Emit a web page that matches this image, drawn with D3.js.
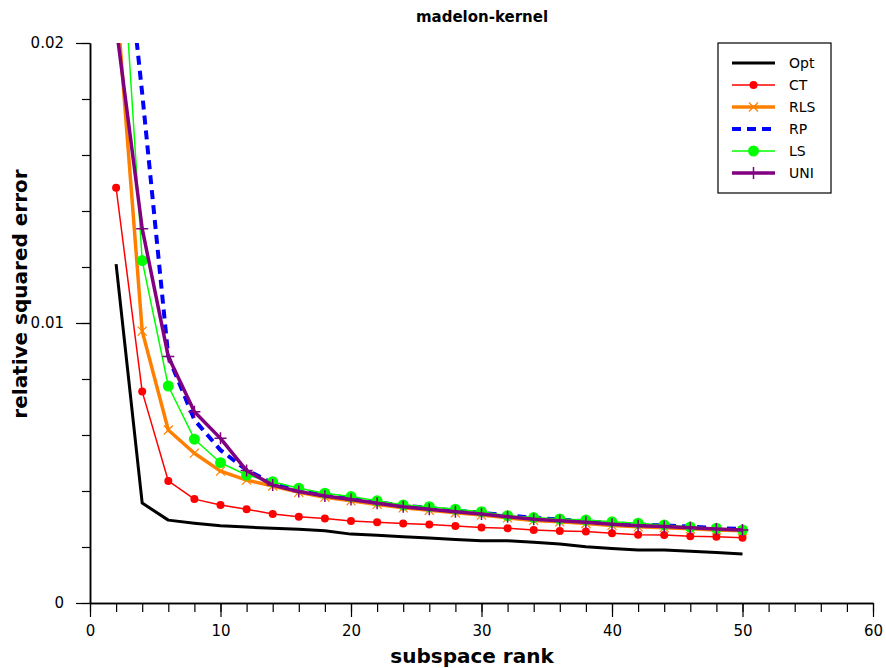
<!DOCTYPE html>
<html>
<head>
<meta charset="utf-8">
<script src="https://cdn.jsdelivr.net/npm/d3@7"></script>
<style>
  body { margin: 0; background: #fff; }
  text { font-family: "DejaVu Sans", Verdana, sans-serif; }
</style>
</head>
<body>
<div id="chart"></div>
<script>
// subspace ranks (shared by every series)
var ranks = [2,4,6,8,10,12,14,16,18,20,22,24,26,28,30,32,34,36,38,40,42,44,46,48,50];

var optVals = [0.0121,0.00357,0.00296,0.00285,0.00276,0.00271,0.00267,0.00263,0.00258,0.00246,0.00242,0.00237,0.00232,0.00227,0.00222,0.00222,0.00217,0.00211,0.00201,0.00195,0.00189,0.00189,0.00185,0.0018,0.00175];
var ctVals  = [0.01483,0.00755,0.00436,0.00371,0.0035,0.00335,0.00318,0.00308,0.00302,0.00293,0.00288,0.00284,0.0028,0.00275,0.0027,0.00267,0.00261,0.00257,0.00255,0.00249,0.00244,0.00243,0.00238,0.00237,0.00233];
var rlsVals = [0.0218,0.00971,0.00618,0.00535,0.00471,0.00439,0.00418,0.00395,0.00378,0.00365,0.00352,0.0034,0.00331,0.00322,0.00314,0.00304,0.00295,0.0029,0.00284,0.00277,0.00272,0.00269,0.00265,0.00261,0.00258];
var rpVals  = [0.027,0.0182,0.0088,0.00654,0.00546,0.00475,0.00427,0.00403,0.00386,0.00373,0.0036,0.00348,0.00339,0.0033,0.00322,0.00313,0.00304,0.00298,0.00292,0.00285,0.0028,0.00277,0.00273,0.00268,0.00264];
var lsVals  = [0.0269,0.01223,0.00775,0.00585,0.00501,0.00457,0.00433,0.0041,0.00392,0.0038,0.00365,0.0035,0.00344,0.00335,0.00326,0.00312,0.00305,0.003,0.00296,0.0029,0.00285,0.00279,0.00271,0.00267,0.00261];
var uniVals = [0.0206,0.01337,0.0088,0.00683,0.00588,0.00473,0.00421,0.00398,0.00382,0.0037,0.00356,0.00344,0.00335,0.00326,0.00318,0.00308,0.00299,0.00294,0.00288,0.00281,0.00276,0.00273,0.00269,0.00264,0.00261];

var seriesNames = ["Opt", "CT", "RLS", "RP", "LS", "UNI"];
var xMajorTicks = [0, 10, 20, 30, 40, 50, 60];
var yMajorTicks = [0, 0.01, 0.02];

var margin = {top: 43, right: 13, bottom: 65, left: 90},
    width = 886 - margin.left - margin.right,
    height = 668 - margin.top - margin.bottom;

var x = d3.scaleLinear().domain([0, 60]).range([0, width]);
var y = d3.scaleLinear().domain([0, 0.02]).range([height, 0]);

var svg = d3.select("#chart")
    .append("svg")
        .attr("width", 886)
        .attr("height", 668)
    .append("g")
        .attr("transform", "translate(" + margin.left + "," + margin.top + ")");

svg.append("defs").append("clipPath")
    .attr("id", "plotclip")
  .append("rect")
    .attr("width", width)
    .attr("height", height);

// series styles
var styles = {
    Opt: {vals: optVals, color: "#000000", w: 3,   dash: null,  marker: null},
    CT:  {vals: ctVals,  color: "#ff0000", w: 1.5, dash: null,  marker: "dot"},
    RLS: {vals: rlsVals, color: "#ff8000", w: 3.5, dash: null,  marker: "x"},
    RP:  {vals: rpVals,  color: "#0000ff", w: 4,   dash: "9,6", marker: null},
    LS:  {vals: lsVals,  color: "#00ff00", w: 1.5, dash: null,  marker: "bigdot"},
    UNI: {vals: uniVals, color: "#800080", w: 3.5, dash: null,  marker: "plus"}
};

function drawMarker(g, kind, color) {
    if (kind == "dot") {
        g.append("circle").attr("r", 4).attr("fill", color);
    } else if (kind == "bigdot") {
        g.append("circle").attr("r", 5.5).attr("fill", color);
    } else if (kind == "x") {
        g.append("path").attr("d", "M-4.5,-4.5L4.5,4.5M-4.5,4.5L4.5,-4.5")
            .attr("stroke", color).attr("stroke-width", 1.2).attr("fill", "none");
    } else if (kind == "plus") {
        g.append("path").attr("d", "M0,-6V6M-6,0H6")
            .attr("stroke", color).attr("stroke-width", 1.5).attr("fill", "none");
    }
}

var line = d3.line()
    .x(function(d) { return x(d.r); })
    .y(function(d) { return y(d.v); });

var plot = svg.append("g").attr("clip-path", "url(#plotclip)");

seriesNames.forEach(function(name) {
    var s = styles[name];
    var data = ranks.map(function(r, i) { return {r: r, v: s.vals[i]}; });
    var g = plot.append("g");
    g.append("path")
        .attr("d", line(data))
        .attr("fill", "none")
        .attr("stroke", s.color)
        .attr("stroke-width", s.w)
        .attr("stroke-dasharray", s.dash)
        .attr("stroke-linejoin", "round");
    if (s.marker) {
        data.forEach(function(d) {
            var m = g.append("g").attr("transform", "translate(" + x(d.r) + "," + y(d.v) + ")");
            drawMarker(m, s.marker, s.color);
        });
    }
});

// X axis: minor then major ticks
svg.append("g")
    .attr("transform", "translate(0," + height + ")")
    .call(d3.axisBottom(x).tickValues(d3.range(0, 61, 2)).tickSize(9).tickSizeOuter(0).tickFormat(""));
svg.append("g")
    .attr("class", "xaxis")
    .attr("transform", "translate(0," + height + ")")
    .call(d3.axisBottom(x).tickValues(xMajorTicks).tickSize(14).tickSizeOuter(0).tickPadding(8));

// Y axis
svg.append("g")
    .call(d3.axisLeft(y).tickValues(d3.range(0, 0.0201, 0.002)).tickSize(8).tickSizeOuter(0).tickFormat(""));
svg.append("g")
    .attr("class", "yaxis")
    .call(d3.axisLeft(y).tickValues(yMajorTicks).tickSize(14).tickSizeOuter(0).tickPadding(12)
        .tickFormat(function(d) { return d == 0 ? "0" : d3.format(".2f")(d); }));

svg.selectAll(".domain").attr("stroke", "#000").attr("stroke-width", 1.5);
svg.selectAll(".tick line").attr("stroke", "#000").attr("stroke-width", 1.2);
svg.selectAll(".xaxis text, .yaxis text")
    .style("font-family", "DejaVu Sans")
    .style("font-size", "15px")
    .attr("fill", "#000");

// Title
svg.append("text")
    .attr("x", 392)
    .attr("y", -21)
    .attr("text-anchor", "middle")
    .style("font-weight", "bold")
    .style("font-size", "15px")
    .text("madelon-kernel");

// X axis label
svg.append("text")
    .attr("x", 382)
    .attr("y", 620)
    .attr("text-anchor", "middle")
    .style("font-weight", "bold")
    .style("font-size", "20px")
    .text("subspace rank");

// Y axis label
svg.append("text")
    .attr("transform", "rotate(-90)")
    .attr("x", -251)
    .attr("y", -63)
    .attr("text-anchor", "middle")
    .style("font-weight", "bold")
    .style("font-size", "20px")
    .text("relative squared error");

// Legend
var legend = svg.append("g").attr("transform", "translate(" + (718 - margin.left) + ",0)");
legend.append("rect")
    .attr("width", 113)
    .attr("height", 150)
    .attr("fill", "#fff")
    .attr("stroke", "#000")
    .attr("stroke-width", 1.2);

seriesNames.forEach(function(name, i) {
    var s = styles[name];
    var ly = 20 + i * 22;
    legend.append("line")
        .attr("x1", 14).attr("x2", 57)
        .attr("y1", ly).attr("y2", ly)
        .attr("stroke", s.color)
        .attr("stroke-width", s.w)
        .attr("stroke-dasharray", s.dash);
    if (s.marker) {
        var m = legend.append("g").attr("transform", "translate(35.5," + ly + ")");
        drawMarker(m, s.marker, s.color);
    }
    legend.append("text")
        .attr("x", 71)
        .attr("y", ly + 5)
        .style("font-size", "14px")
        .text(name);
});
</script>
</body>
</html>
